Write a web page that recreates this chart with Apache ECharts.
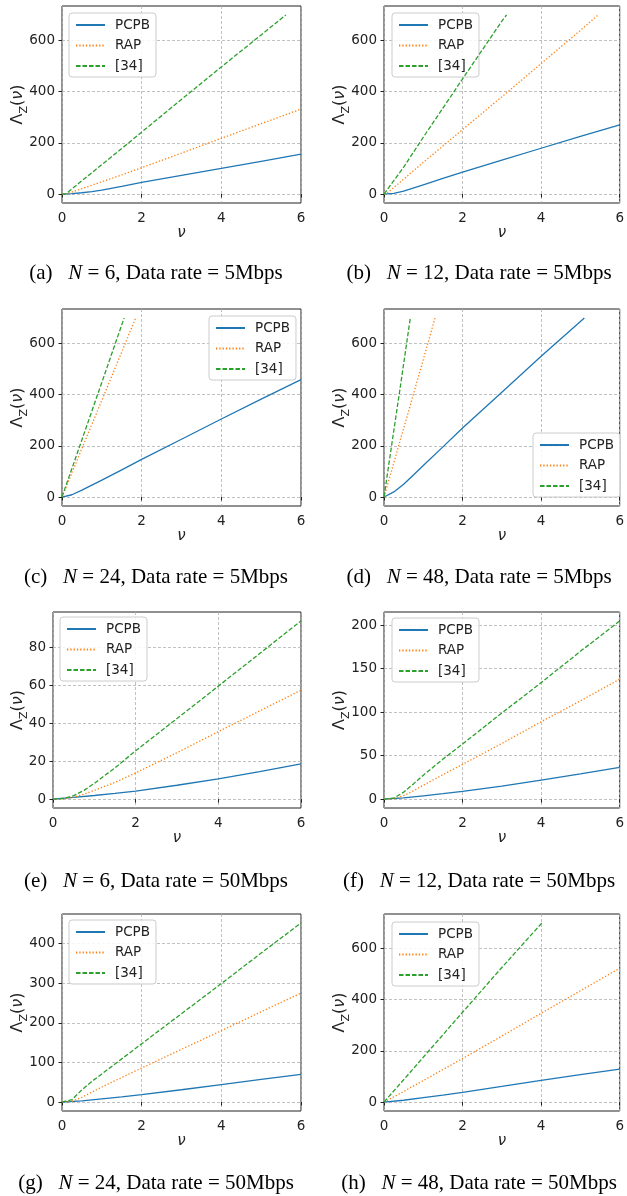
<!DOCTYPE html>
<html>
<head>
<meta charset="utf-8">
<script src="https://cdn.jsdelivr.net/npm/echarts@6/dist/echarts.min.js"></script>
<style>
  html, body { margin: 0; padding: 0; background: #fff; }
  #chart { width: 627px; height: 1196px; }
</style>
</head>
<body>
<div id="chart"></div>
<script>
// Λ_Z(ν) versus ν for PCPB, RAP and [34]; each curve is a list of [ν, Λ] points.
const seriesNames = ['PCPB', 'RAP', '[34]'];
const xTicks = [0, 2, 4, 6];

// (a) N = 6, 5 Mbps
const a_pcpb = [[0,0],[0.25,1.5],[0.5,5],[0.75,9.5],[1,15],[1.5,30],[2,46],[3,73],[4,100],[5,128],[6,156]];
const a_rap  = [[0,0],[0.1,0.5],[0.5,21],[1,48],[1.5,75],[2,103],[3,160],[4,218],[5,275],[6,332]];
const a_ref  = [[0,0],[0.1,1],[0.5,52],[1,115],[1.5,178],[2,242],[3,370],[4,497],[5,622],[5.62,700]];
const a_ticks = [0, 200, 400, 600];

// (b) N = 12, 5 Mbps
const b_pcpb = [[0,0],[0.25,3],[0.5,11],[1,36],[1.5,61],[2,86],[3,133],[4,179],[5,225],[6,270]];
const b_rap  = [[0,0],[0.1,6],[0.5,58],[1,124],[2,252],[3,380],[4,510],[5,640],[5.45,700]];
const b_ref  = [[0,0],[0.5,105],[1,222],[1.5,336],[2,450],[2.5,563],[3,676],[3.12,700]];
const b_ticks = [0, 200, 400, 600];

// (c) N = 24, 5 Mbps
const c_pcpb = [[0,0],[0.25,9],[0.5,27],[1,66],[1.5,106],[2,147],[3,226],[4,305],[5,383],[6,459]];
const c_rap  = [[0,0],[0.5,190],[1,378],[1.5,567],[1.85,700]];
const c_ref  = [[0,0],[0.5,224],[1,448],[1.56,700]];
const c_ticks = [0, 200, 400, 600];

// (d) N = 48, 5 Mbps
const d_pcpb = [[0,0],[0.25,20],[0.5,50],[0.75,86],[1,123],[1.5,196],[2,270],[3,410],[4,550],[5,686],[5.1,700]];
const d_rap  = [[0,0],[0.5,268],[1,537],[1.3,700]];
const d_ref  = [[0,0],[0.2,208],[0.4,415],[0.67,700]];
const d_ticks = [0, 200, 400, 600];

// (e) N = 6, 50 Mbps
const e_pcpb = [[0,0],[0.5,0.9],[1,1.9],[1.5,3],[2,4.2],[3,7.3],[4,10.7],[5,14.5],[6,18.6]];
const e_rap  = [[0,0],[0.25,0.2],[0.5,1],[0.75,2.6],[1,4.6],[1.5,8.8],[2,13.8],[3,24.5],[4,35.6],[5,46.5],[6,57.5]];
const e_ref  = [[0,0],[0.25,0.3],[0.5,1.8],[0.75,4.6],[1,8.3],[1.5,16.5],[2,25.5],[3,42.5],[4,59.6],[5,76.8],[6,94]];
const e_ticks = [0, 20, 40, 60, 80];

// (f) N = 12, 50 Mbps
const f_pcpb = [[0,0],[0.5,1.5],[1,3.8],[1.5,6.2],[2,8.8],[3,15],[4,21.9],[5,29],[6,36.5]];
const f_rap  = [[0,0],[0.25,0.5],[0.5,4],[0.75,9.5],[1,16],[1.5,28],[2,40],[3,64],[4,89],[5,113],[6,138]];
const f_ref  = [[0,0],[0.25,1],[0.5,8],[0.75,17.5],[1,27.5],[1.5,46],[2,63.5],[3,99],[4,134],[5,170],[6,205]];
const f_ticks = [0, 50, 100, 150, 200];

// (g) N = 24, 50 Mbps
const g_pcpb = [[0,0],[0.5,3],[1,8],[1.5,13],[2,18.6],[3,31],[4,44],[5,57],[6,70]];
const g_rap  = [[0,0],[0.25,2],[0.5,12],[0.75,25],[1,38],[1.5,62],[2,86],[3,133],[4,180],[5,228],[6,275]];
const g_ref  = [[0,0],[0.25,6],[0.5,31],[0.75,52],[1,71],[1.5,109],[2,147],[3,223],[4,299],[5,376],[6,452]];
const g_ticks = [0, 100, 200, 300, 400];

// (h) N = 48, 50 Mbps
const h_pcpb = [[0,0],[0.5,7],[1,17],[1.5,27],[2,38],[3,61],[4,85],[5,107],[6,129]];
const h_rap  = [[0,0],[0.5,41],[1,84],[2,170],[3,258],[4,347],[5,435],[6,523]];
const h_ref  = [[0,0],[0.5,87],[1,175],[2,351],[3,526],[4.02,700]];
const h_ticks = [0, 200, 400, 600];

const panelLetters = ['a','b','c','d','e','f','g','h'];
const panelN = [6, 12, 24, 48, 6, 12, 24, 48];
const panelRate = ['5Mbps','5Mbps','5Mbps','5Mbps','50Mbps','50Mbps','50Mbps','50Mbps'];

const panelData = [
  [a_pcpb, a_rap, a_ref, a_ticks],
  [b_pcpb, b_rap, b_ref, b_ticks],
  [c_pcpb, c_rap, c_ref, c_ticks],
  [d_pcpb, d_rap, d_ref, d_ticks],
  [e_pcpb, e_rap, e_ref, e_ticks],
  [f_pcpb, f_rap, f_ref, f_ticks],
  [g_pcpb, g_rap, g_ref, g_ticks],
  [h_pcpb, h_rap, h_ref, h_ticks]
];

// Page layout of each panel: plot box, legend corner, caption centre, y-name gap.
const layout = [
  { grid: {left: 62,  top: 6,   width: 239, height: 197}, legend: {left: 69,  top: 13},  cap: [156, 273], gap: 33 },
  { grid: {left: 384, top: 6,   width: 239, height: 197}, legend: {left: 392, top: 13},  cap: [479, 273], gap: 33 },
  { grid: {left: 62,  top: 309, width: 239, height: 197}, legend: {left: 209, top: 316}, cap: [156, 577], gap: 33 },
  { grid: {left: 384, top: 309, width: 239, height: 197}, legend: {left: 533, top: 433}, cap: [479, 577], gap: 33 },
  { grid: {left: 53,  top: 612, width: 248, height: 196}, legend: {left: 60,  top: 617}, cap: [156, 881], gap: 24 },
  { grid: {left: 384, top: 612, width: 239, height: 196}, legend: {left: 392, top: 618}, cap: [479, 881], gap: 33 },
  { grid: {left: 62,  top: 914, width: 239, height: 197}, legend: {left: 69,  top: 920}, cap: [156, 1183], gap: 33 },
  { grid: {left: 384, top: 914, width: 239, height: 197}, legend: {left: 392, top: 922}, cap: [479, 1183], gap: 33 }
];

const SANS = '"DejaVu Sans", sans-serif';
const SERIF = '"Liberation Serif", "Times New Roman", serif';
const INK = '#222';
const colors = ['#1f77b4', '#ff7f0e', '#2ca02c'];
const dashes = ['solid', [1.3, 2], [4.5, 2]];

const grids = [], xAxes = [], yAxes = [], legends = [], series = [], graphics = [];

panelData.forEach(function (pd, i) {
  const L = layout[i];
  const ticks = pd[3];
  // autoscaled y range: 5% padding around the data span
  let yMaxData = 0;
  for (let k = 0; k < 3; k++) pd[k].forEach(function (p) { if (p[1] > yMaxData) yMaxData = p[1]; });
  const pad = 0.05 * yMaxData;

  grids.push(Object.assign({ show: true, borderColor: INK, borderWidth: 1, backgroundColor: '#fff', containLabel: false }, L.grid));

  xAxes.push({
    type: 'value', gridIndex: i, min: 0, max: 6, interval: 2,
    name: 'ν', nameLocation: 'middle', nameGap: 23, nameMoveOverlap: false,
    nameTextStyle: { fontFamily: SANS, fontSize: 15, fontStyle: 'italic', color: INK },
    axisLine: { show: false },
    axisTick: { show: true, inside: false, length: 3.5, lineStyle: { color: INK, width: 1 } },
    axisLabel: { fontFamily: SANS, fontSize: 13.5, color: INK, margin: 8, showMinLabel: true, showMaxLabel: true },
    splitLine: { show: true, lineStyle: { color: '#b0b0b0', width: 0.8, type: [3, 2] } }
  });

  yAxes.push({
    type: 'value', gridIndex: i, min: -pad, max: yMaxData + pad,
    name: '{m|Λ}{s|Z}{m|(}{v|ν}{m|)}', nameLocation: 'middle', nameGap: L.gap, nameRotate: 90,
    nameMoveOverlap: false,
    nameTextStyle: {
      fontFamily: SANS, color: INK,
      rich: {
        m: { fontFamily: SANS, fontSize: 16, color: INK, verticalAlign: 'top', lineHeight: 19 },
        v: { fontFamily: SANS, fontSize: 16, fontStyle: 'italic', color: INK, verticalAlign: 'top', lineHeight: 19 },
        s: { fontFamily: SANS, fontSize: 11, color: INK, verticalAlign: 'top', lineHeight: 13, padding: [9, 0, 0, 0] }
      }
    },
    axisLine: { show: false },
    axisTick: { show: true, inside: false, length: 3.5, lineStyle: { color: INK, width: 1 }, customValues: ticks },
    axisLabel: { fontFamily: SANS, fontSize: 13.5, color: INK, margin: 7, customValues: ticks },
    splitLine: { show: true, lineStyle: { color: '#b0b0b0', width: 0.8, type: [3, 2] } }
  });

  legends.push({
    left: L.legend.left, top: L.legend.top, orient: 'vertical',
    data: seriesNames, selectedMode: false,
    itemWidth: 29, itemHeight: 14, itemGap: 6.5,
    padding: [5, 6, 4, 6],
    itemStyle: { opacity: 0 },
    backgroundColor: 'rgba(255,255,255,0.85)', borderColor: '#cccccc', borderWidth: 1, borderRadius: 3,
    textStyle: { fontFamily: SANS, fontSize: 13.5, color: INK, padding: [0, 0, 0, 5] }
  });

  for (let k = 0; k < 3; k++) {
    series.push({
      type: 'line', name: seriesNames[k], xAxisIndex: i, yAxisIndex: i,
      data: pd[k], symbol: 'none', showSymbol: false, smooth: false,
      lineStyle: { color: colors[k], width: 1.3, type: dashes[k] },
      itemStyle: { color: colors[k], opacity: 0 },
      z: 3 + k, silent: true
    });
  }

  graphics.push({
    type: 'text', x: L.cap[0], y: L.cap[1],
    style: {
      text: '(' + panelLetters[i] + ')\u2002 {i|N} = ' + panelN[i] + ', Data rate = ' + panelRate[i],
      fontFamily: SERIF, fontSize: 21, fill: '#000',
      align: 'center', verticalAlign: 'middle',
      rich: { i: { fontFamily: SERIF, fontSize: 21, fontStyle: 'italic', fill: '#000' } }
    }
  });
});

const chart = echarts.init(document.getElementById('chart'), null, { renderer: 'canvas' });
chart.setOption({
  animation: false,
  backgroundColor: '#fff',
  grid: grids,
  xAxis: xAxes,
  yAxis: yAxes,
  legend: legends,
  series: series,
  graphic: graphics
});
</script>
</body>
</html>
